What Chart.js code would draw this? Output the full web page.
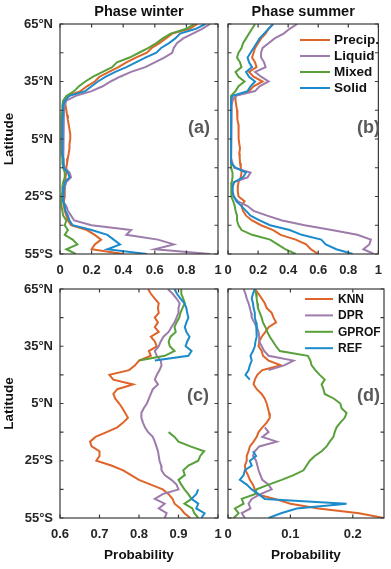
<!DOCTYPE html>
<html>
<head>
<meta charset="utf-8">
<title>Phase winter / Phase summer</title>
<script src="https://cdn.jsdelivr.net/npm/chart.js@4.4.1/dist/chart.umd.min.js"></script>
<style>
  html, body { margin: 0; padding: 0; background: #fff; }
  #wrap { position: relative; width: 391px; height: 569px; }
  #wrap canvas { position: absolute; left: 0; top: 0; }
</style>
</head>
<body>
<div id="wrap">
  <canvas id="chartA" width="391" height="569"></canvas>
  <canvas id="chartB" width="391" height="569"></canvas>
  <canvas id="chartC" width="391" height="569"></canvas>
  <canvas id="chartD" width="391" height="569"></canvas>
</div>
<script>
// latitude of each sample, north to south
const latitudes = [65, 62.5, 60, 57.5, 55, 52.5, 50, 47.5, 45, 42.5, 40, 37.5, 35, 32.5, 30, 27.5, 25,
  22.5, 20, 17.5, 15, 12.5, 10, 7.5, 5, 2.5, 0, -2.5, -5, -7.5, -10, -12.5, -15, -17.5, -20, -22.5,
  -25, -27.5, -30, -32.5, -35, -37.5, -40, -42.5, -45, -47.5, -50, -52.5, -55];

const latTickValues = [65, 35, 5, -25, -55];
const latTickLabels = ['65°N', '35°N', '5°N', '25°S', '55°S'];
const latMinorTicks = [65, 50, 35, 20, 5, -10, -25, -40, -55];

const xTicksPhase = [0, 0.2, 0.4, 0.6, 0.8, 1];
const xTicksWinterProb = [0.6, 0.7, 0.8, 0.9, 1];
const xTicksSummerProb = [0, 0.1, 0.2];

const phaseNames = ['Precip.', 'Liquid', 'Mixed', 'Solid'];
const productNames = ['KNN', 'DPR', 'GPROF', 'REF'];

// (a) phase winter
const winterPrecip = [.87, .82, .71, .67, .63, .58, .55, .48, .42, .37, .31, .25, .22, .17, .13, .05, .03,
  .035, .04, .045, .05, .055, .06, .065, .065, .06, .06, .055, .05, .045, .04, .04, .035, .035, .03, .03, .03, .025,
  .025, .03, .04, .05, .07, .17, .22, .26, .22, .20, .40];
const winterLiquid = [.95, .90, .84, .78, .74, .72, .71, .66, .60, .54, .45, .38, .32, .27, .20, .10, .04,
  .03, .025, .025, .02, .02, .02, .02, .02, .02, .02, .02, .02, .025, .03, .06, .07, .04, .03, .025, .02, .02,
  .04, .05, .07, .09, .20, .45, .42, .62, .72, .60, .95];
const winterMixed = [.85, .80, .70, .65, .61, .56, .50, .44, .36, .33, .27, .21, .16, .12, .09, .04, .02,
  .015, .015, .01, .01, .01, .01, .01, .01, .01, .01, .01, .015, .015, .02, .03, .03, .02, .015, .015, .01, .01,
  .01, .015, .02, .04, .03, .05, .03, .08, .11, .04, .10];
const winterSolid = [.92, .86, .76, .73, .69, .64, .61, .54, .48, .42, .35, .29, .24, .20, .16, .06, .03,
  .02, .02, .02, .015, .015, .015, .015, .015, .015, .015, .015, .02, .02, .025, .05, .06, .03, .025, .02, .02, .02,
  .03, .035, .05, .06, .08, .20, .30, .34, .38, .30, .55];

// (b) phase summer
const summerPrecip = [.30, .27, .25, .22, .20, .18, .17, .16, .18, .19, .14, .17, .23, .17, .14, .05, .05,
  .055, .06, .06, .065, .07, .07, .07, .072, .075, .08, .075, .078, .08, .085, .09, .085, .07, .065, .065, .07, .11,
  .09, .10, .12, .16, .22, .30, .35, .45, .52, .55, .60];
const summerLiquid = [.46, .41, .37, .31, .27, .23, .22, .22, .24, .25, .18, .22, .27, .21, .18, .05, .03,
  .025, .02, .02, .02, .02, .02, .02, .02, .02, .02, .02, .025, .03, .04, .15, .13, .04, .03, .03, .035, .066,
  .13, .17, .26, .36, .51, .69, .86, .95, .94, .90, .97];
const summerMixed = [.18, .16, .14, .12, .10, .09, .07, .06, .08, .09, .05, .07, .11, .07, .05, .02, .02,
  .02, .02, .02, .02, .02, .02, .02, .02, .02, .02, .02, .02, .02, .025, .03, .03, .025, .02, .02, .025, .035,
  .045, .05, .06, .06, .07, .09, .16, .28, .33, .38, .45];
const summerSolid = [.30, .27, .24, .21, .19, .17, .15, .13, .14, .16, .12, .14, .18, .15, .13, .03, .02,
  .02, .02, .02, .02, .02, .02, .02, .02, .02, .02, .02, .02, .025, .05, .12, .10, .04, .03, .03, .04, .056,
  .09, .12, .15, .21, .28, .41, .49, .62, .65, .72, .83];

// (c) probability winter
const winterKnn = [.823, .83, .84, .85, .848, .85, .84, .848, .84, .85, .83, .84, .845, .825, .83, .80, .79,
  .775, .725, .735, .785, .745, .735, .74, .75,
  .758, .765, .772, .76, .745, .718, .69, .676, .68, .70, .70, .692, .73, .76, .78, .80, .83, .86, .875, .885, .89, .905, .915, .93];
const winterDpr = [.873, .885, .895, .903, .90, .90, .895, .89, .882, .875, .862, .855, .85, .84, .845, .855, .857,
  .852, .845, .84, .848, .835, .83, .825, .82,
  .812, .806, .806, .81, .815, .823, .835, .84, .844, .848, .85, .852, .856, .857, .865, .882, .895, .90, .86, .84, .865, .85, .87, .865];
const winterGprof = [.907, .907, .912, .916, .91, .905, .902, .895, .89, .893, .88, .875, .878, .89, .865, .80,
  null, null, null, null, null, null, null, null, null, null, null, null, null, null,
  .875, .89, .90, .93, .965, .955, .95, .925, .912, .916, .90, .907, .915, .925, .933, .915, .935, .94, .95];
const winterRef = [.89, .896, .905, .915, .92, .922, .925, .92, .916, .92, .928, .922, .918, .933, .925, .84,
  null, null, null, null, null, null, null, null, null, null, null, null, null,
  null, null, null, null, null, null, null, null, null, null, null, null, null,
  .95, .945, .933, .95, .945, .966, .958];

// (d) probability summer
const summerKnn = [.043, .049, .054, .059, .062, .07, .073, .077, .065, .06, .054, .05, .049, .054, .056, .065, .085,
  .055, .047, .043, .041, .046, .054, .059, .062,
  .064, .066, .067, .062, .055, .049, .046, .041, .035, .033, .03, .03, .027, .028, .032, .035, .04, .043, .046, .075, .10, .145, .21, .25];
const summerDpr = [.025, .028, .03, .033, .035, .037, .038, .042, .046, .049, .05, .05, .054, .058, .065, .105, .09, .065,
  null, null, null, null, null, null, null, null, null, null, null,
  .059, .065, .055, .078, .05, .043, .04, .045, .047, .049, .052, .055, .065, .07, .052, .038, .033, .036, .022, .027];
const summerGprof = [.043, .045, .046, .047, .048, .051, .054, .056, .06, .063, .067, .072, .077, .083, .128, .132, .134,
  .14, .147, .155, .15, .153, .155, .17, .18,
  .182, .19, .187, .18, .174, .171, .169, .163, .158, .15, .139, .131, .126, .121, .105, .086, .065, .046, .043, .022, .025, .011, .017, .009];
const summerRef = [.043, .04, .038, .04, .041, .043, .043, .045, .046, .046, .046, .044, .043, .04, .036, .038, .035, .033, .028, .035,
  null, null, null, null, null, null, null, null, null, null, null, null, null, null,
  .04, .045, .035, .038, .027, .025, .019, .03, .038, .049, .059, .19, .11, .085, .065];

const seriesColors = ['#DE6429', '#9D7BAA', '#58A03A', '#1B8BCB'];
const FONT = '"Liberation Sans", Arial, Helvetica, sans-serif';
const W = 391, H = 569;

Chart.defaults.font.family = FONT;
Chart.defaults.font.size = 13;
Chart.defaults.font.weight = 'bold';
Chart.defaults.color = '#262626';

const panels = [
  { canvas: 'chartA', series: [winterPrecip, winterLiquid, winterMixed, winterSolid], names: phaseNames,
    xMin: 0, xMax: 1, xTicks: xTicksPhase, box: [60, 24, 218, 254], yLabels: true,
    title: 'Phase winter', letter: '(a)', letterPos: [210, 128], xTitle: null, legend: null },
  { canvas: 'chartB', series: [summerPrecip, summerLiquid, summerMixed, summerSolid], names: phaseNames,
    xMin: 0, xMax: 1, xTicks: xTicksPhase, box: [228, 24, 384, 254], yLabels: false,
    title: 'Phase summer', letter: '(b)', letterPos: [380, 128], xTitle: null,
    legend: { x0: 300, x1: 330, tx: 334, y0: 40, dy: 16, size: 13.5 } },
  { canvas: 'chartC', series: [winterKnn, winterDpr, winterGprof, winterRef], names: productNames,
    xMin: 0.6, xMax: 1, xTicks: xTicksWinterProb, box: [60, 289, 218, 518], yLabels: true,
    title: null, letter: '(c)', letterPos: [209, 396], xTitle: 'Probability', legend: null },
  { canvas: 'chartD', series: [summerKnn, summerDpr, summerGprof, summerRef], names: productNames,
    xMin: 0, xMax: 0.25, xTicks: xTicksSummerProb, box: [228, 289, 384, 518], yLabels: false,
    title: null, letter: '(d)', letterPos: [380, 396], xTitle: 'Probability',
    legend: { x0: 305, x1: 333, tx: 338, y0: 299, dy: 16.4, size: 12 } }
];

// frame, inward ticks and all the annotation text
const decor = {
  id: 'decor',
  afterDatasetsDraw(chart) {
    const p = panels.find(q => q.canvas === chart.canvas.id);
    const { ctx, chartArea: a, scales: { x, y } } = chart;
    ctx.save();
    ctx.strokeStyle = '#3a3a3a';
    ctx.lineWidth = 1.2;
    ctx.strokeRect(a.left, a.top, a.right - a.left, a.bottom - a.top);
    ctx.beginPath();
    p.xTicks.forEach(v => {
      const px = x.getPixelForValue(v);
      ctx.moveTo(px, a.bottom); ctx.lineTo(px, a.bottom - 3.5);
      ctx.moveTo(px, a.top); ctx.lineTo(px, a.top + 3.5);
    });
    latMinorTicks.forEach(v => {
      const py = y.getPixelForValue(v);
      ctx.moveTo(a.left, py); ctx.lineTo(a.left + 3.5, py);
      ctx.moveTo(a.right, py); ctx.lineTo(a.right - 3.5, py);
    });
    ctx.stroke();

    const cx = (a.left + a.right) / 2;
    ctx.fillStyle = '#111';
    ctx.textBaseline = 'middle';
    if (p.title) {
      ctx.font = 'bold 14.5px ' + FONT;
      ctx.textAlign = 'center';
      ctx.fillText(p.title, cx, 12);
    }
    if (p.xTitle) {
      ctx.font = 'bold 13.5px ' + FONT;
      ctx.textAlign = 'center';
      ctx.fillText(p.xTitle, cx, 555);
    }
    if (p.yLabels) {
      ctx.save();
      ctx.translate(9, (a.top + a.bottom) / 2);
      ctx.rotate(-Math.PI / 2);
      ctx.font = 'bold 13.5px ' + FONT;
      ctx.textAlign = 'center';
      ctx.fillText('Latitude', 0, 0);
      ctx.restore();
    }
    ctx.fillStyle = '#595959';
    ctx.font = 'bold 18px ' + FONT;
    ctx.textAlign = 'right';
    ctx.fillText(p.letter, p.letterPos[0], p.letterPos[1]);

    if (p.legend) {
      const lg = p.legend;
      ctx.font = 'bold ' + lg.size + 'px ' + FONT;
      ctx.textAlign = 'left';
      ctx.fillStyle = '#111';
      p.names.forEach((name, i) => {
        const ly = lg.y0 + i * lg.dy;
        ctx.strokeStyle = seriesColors[i];
        ctx.lineWidth = 2;
        ctx.beginPath();
        ctx.moveTo(lg.x0, ly); ctx.lineTo(lg.x1, ly);
        ctx.stroke();
        ctx.fillText(name, lg.tx, ly + 0.5);
      });
    }
    ctx.restore();
  }
};

panels.forEach(p => {
  const [left, top, right, bottom] = p.box;
  const yWidth = p.yLabels ? 60 : left;
  const xHeight = 30;
  new Chart(document.getElementById(p.canvas), {
    type: 'line',
    data: {
      datasets: p.series.map((values, i) => ({
        label: p.names[i],
        data: latitudes.map((lat, k) => ({ x: values[k], y: lat })),
        borderColor: seriesColors[i],
        borderWidth: 2,
        pointRadius: 0,
        tension: 0,
        spanGaps: false,
        order: 3 - i
      }))
    },
    options: {
      indexAxis: 'y',
      responsive: false,
      animation: false,
      devicePixelRatio: 1,
      events: [],
      layout: { padding: { left: left - yWidth, top: top, right: W - right, bottom: H - bottom - xHeight } },
      plugins: { legend: { display: false }, tooltip: { enabled: false } },
      scales: {
        x: {
          type: 'linear', min: p.xMin, max: p.xMax,
          grid: { display: false, drawTicks: false },
          border: { display: false },
          afterBuildTicks: s => { s.ticks = p.xTicks.map(v => ({ value: v })); },
          afterFit: s => { s.height = xHeight; },
          ticks: { padding: 9, maxRotation: 0, autoSkip: false, callback: v => String(v) }
        },
        y: {
          type: 'linear', min: -55, max: 65,
          grid: { display: false, drawTicks: false },
          border: { display: false },
          afterBuildTicks: s => { s.ticks = latTickValues.map(v => ({ value: v })); },
          afterFit: s => { s.width = yWidth; },
          ticks: {
            display: p.yLabels, padding: 7, autoSkip: false,
            callback: v => latTickLabels[latTickValues.indexOf(v)]
          }
        }
      }
    },
    plugins: [decor]
  });
});
</script>
</body>
</html>
